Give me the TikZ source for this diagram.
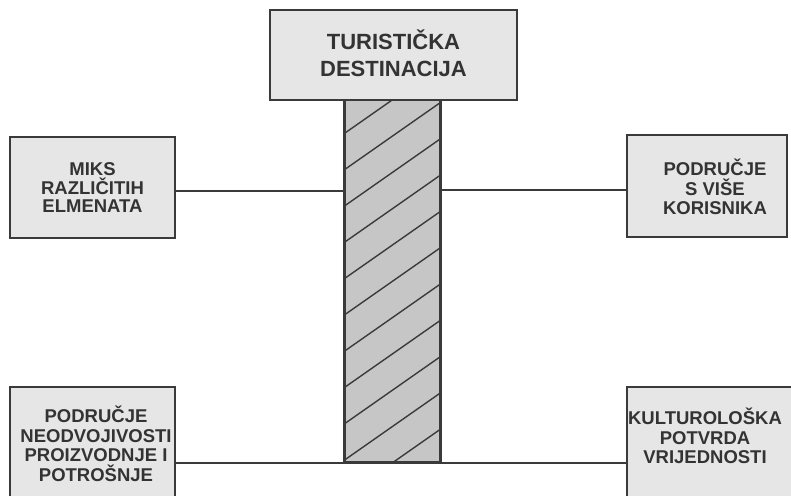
\documentclass[tikz,border=0pt]{standalone}
\usepackage{fontspec}
\setmainfont{Liberation Sans}
\definecolor{edge}{HTML}{3A3A3A}
\definecolor{boxfill}{HTML}{E6E6E6}
\definecolor{colfill}{HTML}{C6C6C6}
\definecolor{ink}{HTML}{333333}
\begin{document}
\begin{tikzpicture}[x=1pt,y=-1pt,
  box/.style={draw=edge, line width=1.8pt, fill=boxfill, inner sep=0pt, rectangle},
  lbl/.style={text=ink, align=center, font=\bfseries\fontsize{18.5}{19.5}\selectfont, inner sep=0pt},
  ttl/.style={text=ink, align=center, font=\bfseries\fontsize{22}{27}\selectfont, inner sep=0pt},
  conn/.style={draw=edge, line width=1.5pt},
  hatch/.style={draw=edge, line width=1.4pt}]
\useasboundingbox (0,0) rectangle (791,495);
\clip (0,0) rectangle (791,495);
\fill[white] (0,0) rectangle (791,495);
% column
\node[box, fill=colfill, minimum width=95pt, minimum height=362pt] (col) at (392.5,281) {};
\begin{scope}
  \clip (col.south west) rectangle (col.north east);
  \foreach \k in {-2,...,11} {
    \draw[hatch] (345,133+36.3*\k) -- (440,133+36.3*\k-66.5);
  }
\end{scope}
\draw[draw=edge, line width=1.8pt] (col.south west) rectangle (col.north east);
% title
\node[box, minimum width=247pt, minimum height=90pt] (dest) at (393.5,55) {};
\node[ttl] (destl) at (393.5,53) {TURISTIČKA\\DESTINACIJA};
% side boxes
\node[box, minimum width=165pt, minimum height=101pt] (mix) at (92.5,187.5) {};
\node[lbl, font=\bfseries\fontsize{18.5}{18.5}\selectfont] (mixl) at (92.5,188) {MIKS\\RAZLIČITIH\\ELMENATA};
\node[box, minimum width=160pt, minimum height=102pt] (kor) at (707,186) {};
\node[lbl] (korl) at (715,187) {PODRUČJE\\S VIŠE\\KORISNIKA};
\node[box, minimum width=165pt, minimum height=118pt] (neo) at (92.5,446) {};
\node[lbl] (neol) at (96,444) {PODRUČJE\\NEODVOJIVOSTI\\PROIZVODNJE I\\POTROŠNJE};
\node[box, minimum width=180pt, minimum height=118pt] (kul) at (717,446) {};
\node[lbl] (kull) at (705,436) {KULTUROLOŠKA\\POTVRDA\\VRIJEDNOSTI};
% connectors
\draw[conn] (mix.east |- 0,191) -- (col.west |- 0,191);
\draw[conn] (col.east |- 0,190) -- (kor.west |- 0,190);
\draw[conn] (neo.east |- col.south) -- (kul.west |- col.south);
\end{tikzpicture}
\end{document}
